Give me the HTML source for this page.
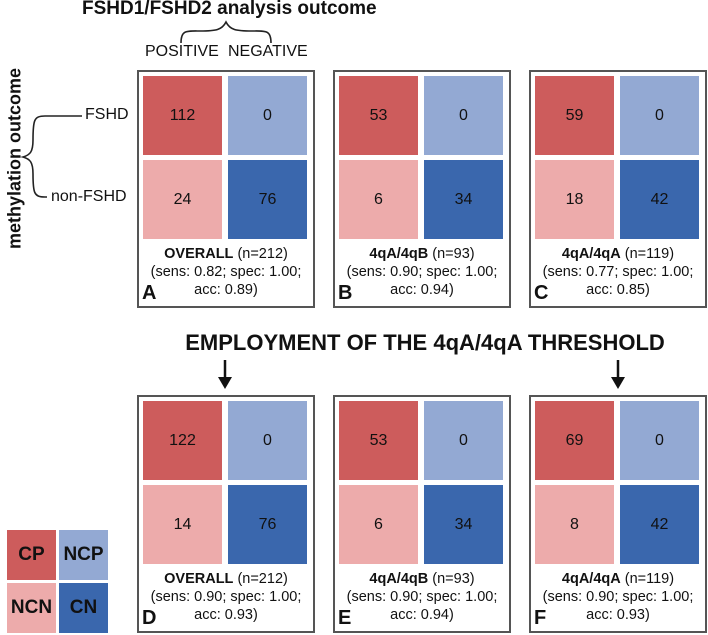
<!DOCTYPE html>
<html><head><meta charset="utf-8">
<style>
body{margin:0;width:708px;height:635px;background:#fff;position:relative;overflow:hidden;font-family:"Liberation Sans",sans-serif;color:#111}
.abs{position:absolute}
.panel{position:absolute;width:174px;height:234px;border:2px solid #555;box-sizing:content-box}
.cell{position:absolute;width:79px;height:79px;display:flex;align-items:center;justify-content:center;font-size:16px}
.lab{position:absolute;left:0;width:174px;text-align:center;font-size:14.5px;line-height:18px;top:173px}
.letter{position:absolute;left:3px;bottom:1px;font-weight:bold;font-size:20px}
</style></head><body>
<div class="abs" style="left:82px;top:-2px;font-weight:bold;font-size:19px;">FSHD1/FSHD2 analysis outcome</div>
<svg class="abs" style="left:0;top:0" width="708" height="635">
<path d="M181,43 C181,30 186,31 200,31 C216,31 222,30 226,22 C230,30 236,31 252,31 C266,31 271,30 271,43" fill="none" stroke="#222" stroke-width="1.6"/>
<path d="M82,116 L45,116 C34,116 33,120 33,140 C33,152 30,155 23,157 C30,159 33,162 33,174 C33,193 34,197 45,197 L47,197" fill="none" stroke="#222" stroke-width="1.6"/>
<g stroke="#111" stroke-width="2.5"><line x1="225" y1="360" x2="225" y2="380"/><line x1="618" y1="360" x2="618" y2="380"/></g>
<polygon points="218,377 232,377 225,389" fill="#111"/><polygon points="611,377 625,377 618,389" fill="#111"/>
</svg>
<div class="abs" style="left:145px;top:43px;font-size:16px;">POSITIVE</div>
<div class="abs" style="left:228px;top:43px;font-size:16px;">NEGATIVE</div>
<div class="abs" style="left:-90px;top:148px;width:210px;text-align:center;transform:rotate(-90deg);font-weight:bold;font-size:18px;white-space:nowrap;">methylation outcome</div>
<div class="abs" style="left:85px;top:106px;font-size:16px;">FSHD</div>
<div class="abs" style="left:51px;top:188px;font-size:16px;">non-FSHD</div>
<div class="abs" style="left:0;width:850px;text-align:center;top:330px;font-weight:bold;font-size:22px;">EMPLOYMENT OF THE 4qA/4qA THRESHOLD</div>
<div id="legend" class="abs" style="left:7px;top:530px;width:101px;height:103px;"></div>
<div id="panels"></div>
<script>
const colors=["#cd5c5c","#93a9d3","#edabab","#3a67ad"];
const panelTitles=["OVERALL","4qA/4qB","4qA/4qA","OVERALL","4qA/4qB","4qA/4qA"];
const panelN=[212,93,119,212,93,119];
const cp=[112,53,59,122,53,69];
const ncp=[0,0,0,0,0,0];
const ncn=[24,6,18,14,6,8];
const cn=[76,34,42,76,34,42];
const sens=["0.82","0.90","0.77","0.90","0.90","0.90"];
const spec=["1.00","1.00","1.00","1.00","1.00","1.00"];
const acc=["0.89","0.94","0.85","0.93","0.94","0.93"];
const letters=["A","B","C","D","E","F"];
const legendLabels=["CP","NCP","NCN","CN"];
const px=[137,333,529,137,333,529], py=[70,70,70,395,395,395];
const root=document.getElementById('panels');
for(let i=0;i<6;i++){
  const p=document.createElement('div');p.className='panel';
  
  
  p.style.left=px[i]+'px';p.style.top=py[i]+'px';
  const vals=[cp[i],ncp[i],ncn[i],cn[i]];
  for(let k=0;k<4;k++){
    const c=document.createElement('div');c.className='cell';
    
    
    c.style.left=(4+(k%2)*85)+'px';c.style.top=(4+Math.floor(k/2)*84)+'px';
    c.style.background=colors[k];c.textContent=vals[k];
    p.appendChild(c);
  }
  const l=document.createElement('div');l.className='lab';
  
  
  l.innerHTML='<b>'+panelTitles[i]+'</b> (n='+panelN[i]+')<br>(sens: '+sens[i]+'; spec: '+spec[i]+';<br>acc: '+acc[i]+')';
  p.appendChild(l);
  const t=document.createElement('div');t.className='letter';
  
  
  t.textContent=letters[i];p.appendChild(t);
  root.appendChild(p);
}
const lg=document.getElementById('legend');
for(let k=0;k<4;k++){
  const c=document.createElement('div');
  
  
  c.style.cssText='position:absolute;width:49px;height:50px;display:flex;align-items:center;justify-content:center;font-weight:bold;font-size:19px;left:'+((k%2)*52)+'px;top:'+(Math.floor(k/2)*53)+'px;background:'+colors[k];
  c.textContent=legendLabels[k];lg.appendChild(c);
}
</script>
</body></html>
